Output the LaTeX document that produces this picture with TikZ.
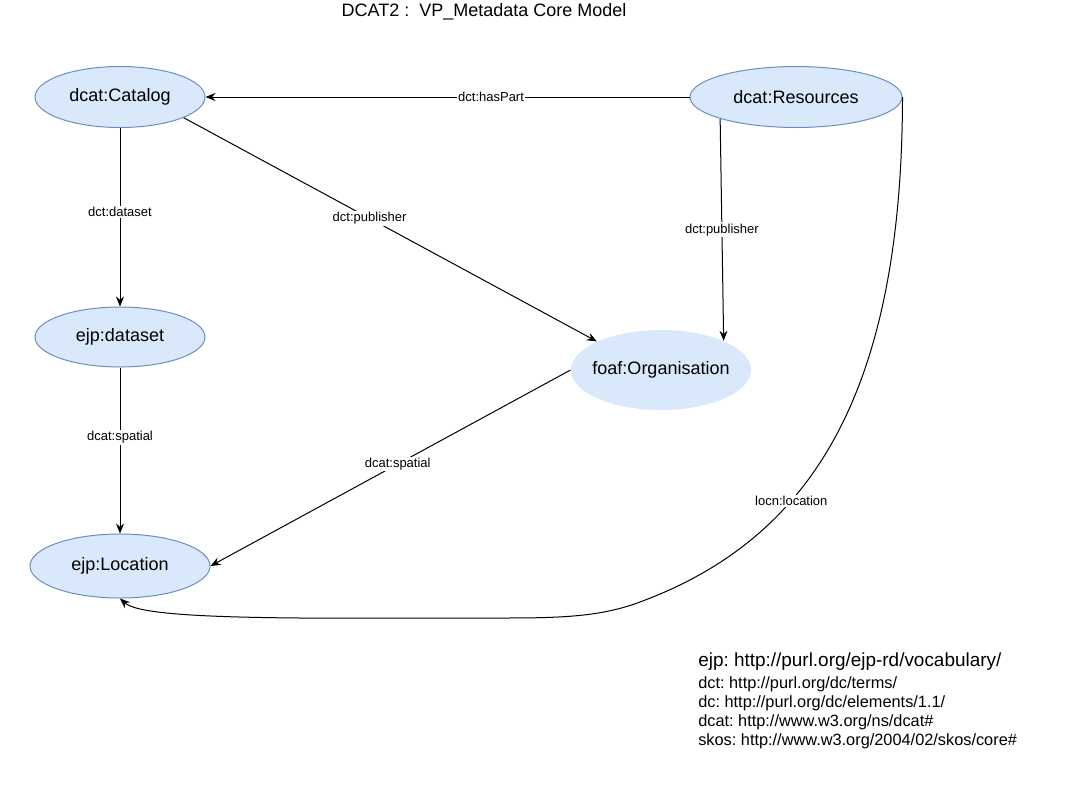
\documentclass[tikz,border=0pt]{standalone}
\usepackage{fontspec}
\setmainfont{Liberation Sans}
\usetikzlibrary{shapes.geometric,arrows.meta}
\definecolor{nodefill}{HTML}{DAE8FC}
\definecolor{nodeline}{HTML}{6C8EBF}
\frenchspacing
\tikzset{
  cls/.style={ellipse, fill=nodefill, draw=nodeline, line width=0.75pt, inner sep=0pt,
    font=\fontsize{13.5}{16}\selectfont},
  arr/.style={draw=black, line width=0.75pt, -{Stealth[length=7.5pt,width=6pt,inset=2.5pt]}},
  lbl/.style={fill=white, inner sep=1pt, font=\fontsize{9.75}{11}\selectfont},
  legend/.style={anchor=west, inner sep=0pt, font=\fontsize{12.25}{14}\selectfont}
}
\begin{document}
\begin{tikzpicture}[x=0.75pt,y=-0.75pt]
\useasboundingbox (0,0) rectangle (1066,786);
\node[inner sep=0pt, font=\fontsize{13.5}{16}\selectfont] (title) at (484,12) {DCAT2 :\ \ VP\_Metadata Core Model};

\node[cls, minimum width=127.5pt, minimum height=45.75pt] (cat) at (120,97) {dcat:Catalog};
\node[cls, minimum width=159pt, minimum height=45.75pt] (res) at (796,97) {dcat:Resources};
\node[cls, minimum width=127.5pt, minimum height=45pt] (ds) at (120,337) {ejp:dataset};
\node[cls, draw=none, inner xsep=-4pt, minimum width=135pt, minimum height=60pt] (org) at (661,370) {foaf:Organisation};
\node[cls, minimum width=135pt, minimum height=48pt] (loc) at (120,566) {ejp:Location};

\draw[arr] (res.west) -- node[lbl,pos=0.41]{dct:hasPart} (cat.east);
\draw[arr] (cat.south) -- node[lbl,pos=0.47]{dct:dataset} (ds.north);
\draw[arr] (cat.-18) -- node[lbl,pos=0.45]{dct:publisher} (org.156);
\draw[arr] (res.-164) -- node[lbl,pos=0.5]{dct:publisher} (org.25);
\draw[arr] (ds.south) -- node[lbl,pos=0.42]{dcat:spatial} (loc.north);
\draw[arr] (org.west) -- node[lbl,pos=0.48]{dcat:spatial} (loc.east);
\draw[arr] (res.east) .. controls (902,400) and (807,540) .. node[lbl,pos=0.64]{locn:location} (640,602)
  .. controls (600,617) and (560,618) .. (500,618) -- (300,618)
  .. controls (180,617) and (135,612) .. (loc.south);

\node[legend, font=\fontsize{14.2}{16}\selectfont] (l1) at (698,662) {ejp: http://purl.org/ejp-rd/vocabulary/};
\node[legend] (l2) at (698,684) {dct: http://purl.org/dc/terms/};
\node[legend] (l3) at (698,703) {dc: http://purl.org/dc/elements/1.1/};
\node[legend] (l4) at (698,722) {dcat: http://www.w3.org/ns/dcat\#};
\node[legend] (l5) at (698,741) {skos: http://www.w3.org/2004/02/skos/core\#};
\end{tikzpicture}
\end{document}
